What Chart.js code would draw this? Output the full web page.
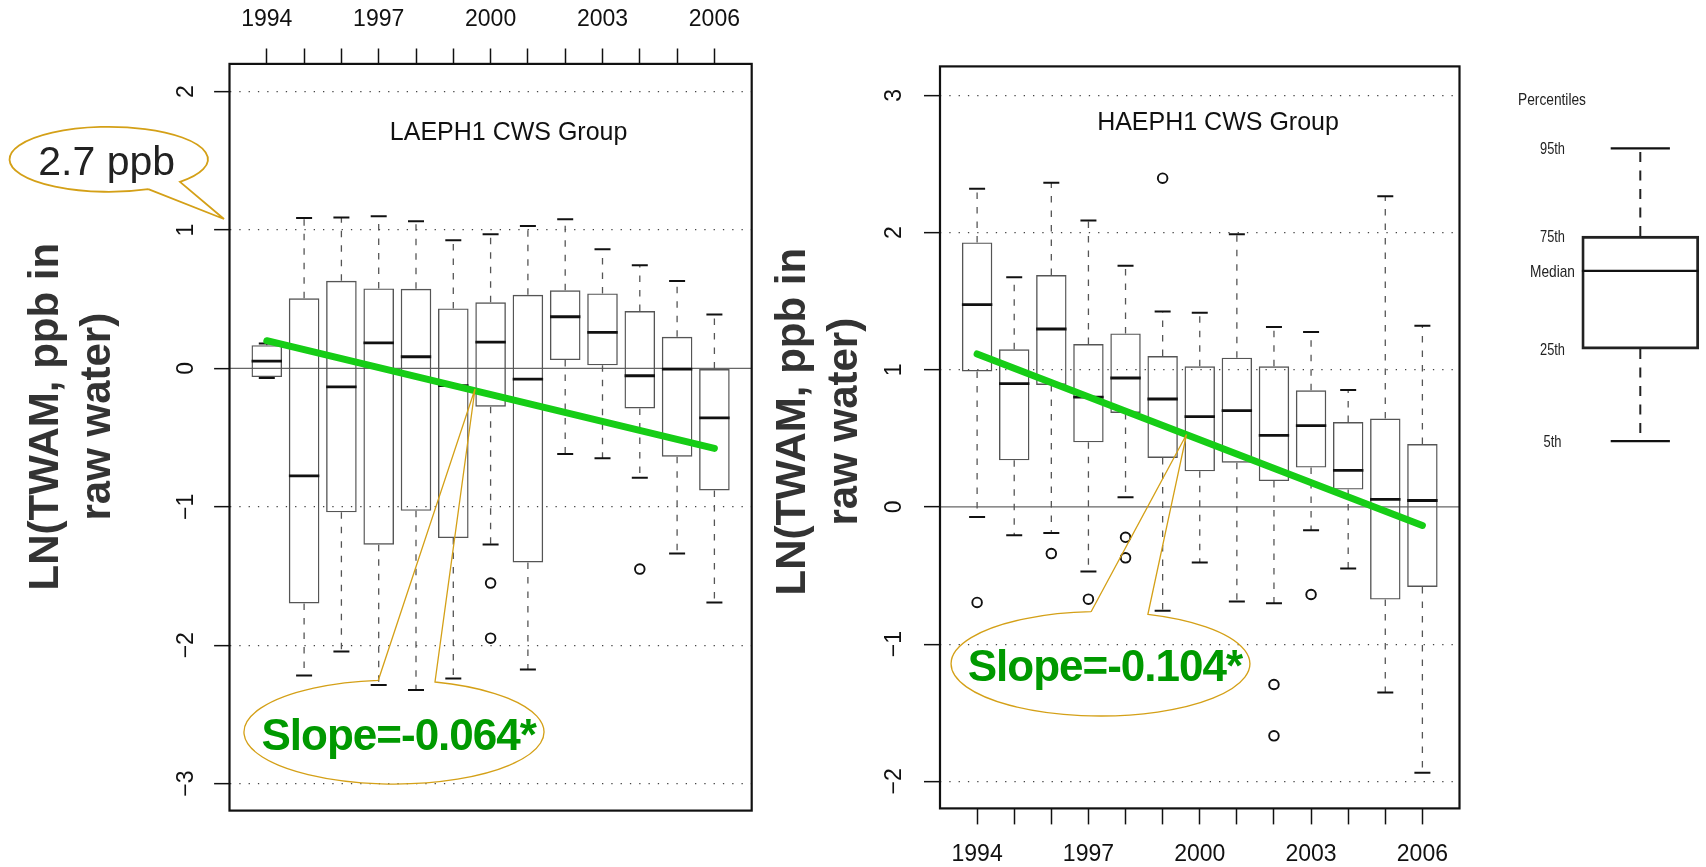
<!DOCTYPE html>
<html><head><meta charset="utf-8">
<script src="https://cdn.jsdelivr.net/npm/chart.js@4.4.1/dist/chart.umd.min.js"></script>
<style>
html,body{margin:0;padding:0;background:#fff;width:1706px;height:867px;overflow:hidden}
canvas{position:absolute}
#cL{left:0;top:0}
#cR{left:760px;top:0}
#cG{left:1500px;top:60px}
#ov{position:absolute;left:0;top:0;pointer-events:none}
</style></head><body>
<canvas id="cL" width="770" height="867"></canvas>
<canvas id="cR" width="730" height="867"></canvas>
<canvas id="cG" width="206" height="420"></canvas>
<svg id="ov" width="1706" height="867" xmlns="http://www.w3.org/2000/svg" font-family="Liberation Sans, Arial, sans-serif">
  <!-- axis titles -->
  <g font-size="42" font-weight="bold" fill="#333" text-anchor="middle">
    <text transform="translate(58.3,416.7) rotate(-90)">LN(TWAM, ppb in</text>
    <text transform="translate(110,416.7) rotate(-90)">raw water)</text>
    <text transform="translate(805,421.7) rotate(-90)">LN(TWAM, ppb in</text>
    <text transform="translate(856.7,421.7) rotate(-90)">raw water)</text>
  </g>
  <!-- panel labels -->
  <g font-size="25" fill="#111" text-anchor="middle">
    <text x="508.6" y="140">LAEPH1 CWS Group</text>
    <text x="1218" y="129.5">HAEPH1 CWS Group</text>
  </g>
  <!-- callouts -->
  <path d="M148.3 189.1 L224 219 L180 181.9 A99.2 32.5 0 1 0 148.3 189.1" fill="none" stroke="#d4a017" stroke-width="1.8"/>
  <text x="106.7" y="175" font-size="41" fill="#222" text-anchor="middle">2.7 ppb</text>
  <path d="M378.3 680.3 L475 389 L435 682 A150 52 0 1 1 378.3 680.3" fill="none" stroke="#d4a017" stroke-width="1.3"/>
  <text x="398.7" y="750" font-size="44" font-weight="bold" fill="#009900" text-anchor="middle" letter-spacing="-1">Slope=-0.064*</text>
  <path d="M1091.1 611.7 L1186.5 434.5 L1147.9 614.3 A149.4 52.2 0 1 1 1091.1 611.7" fill="none" stroke="#d4a017" stroke-width="1.3"/>
  <text x="1104.9" y="681" font-size="44" font-weight="bold" fill="#009900" text-anchor="middle" letter-spacing="-1">Slope=-0.104*</text>
  <!-- legend labels -->
  <g font-size="17" fill="#222">
    <text x="1518" y="105" textLength="68" lengthAdjust="spacingAndGlyphs">Percentiles</text>
    <text x="1552.5" y="154.4" text-anchor="middle" textLength="25" lengthAdjust="spacingAndGlyphs">95th</text>
    <text x="1552.5" y="242.1" text-anchor="middle" textLength="25" lengthAdjust="spacingAndGlyphs">75th</text>
    <text x="1552.5" y="277.1" text-anchor="middle" textLength="45" lengthAdjust="spacingAndGlyphs">Median</text>
    <text x="1552.5" y="355.1" text-anchor="middle" textLength="25" lengthAdjust="spacingAndGlyphs">25th</text>
    <text x="1552.5" y="447.1" text-anchor="middle" textLength="18" lengthAdjust="spacingAndGlyphs">5th</text>
  </g>
</svg>
<script>
// ---------- data ----------
const years = [1994,1995,1996,1997,1998,1999,2000,2001,2002,2003,2004,2005,2006];
const labelYears = [1994,1997,2000,2003,2006];
const yTicksLeft = [-3,-2,-1,0,1,2];
const yTicksRight = [-2,-1,0,1,2,3];

// LAEPH1 CWS Group
const leftHi  = [0.18, 1.086, 1.091, 1.10, 1.064, 0.925, 0.970, 1.028, 1.077, 0.860, 0.746, 0.631, 0.390];
const leftQ3  = [0.168, 0.506, 0.633, 0.578, 0.575, 0.433, 0.477, 0.532, 0.564, 0.542, 0.414, 0.228, 0.0];
const leftMed = [0.053, -0.776, -0.133, 0.185, 0.084, -0.125, 0.19, -0.077, 0.373, 0.26, -0.053, -0.005, -0.357];
const leftQ1  = [-0.063, -1.698, -1.04, -1.274, -1.029, -1.226, -0.277, -1.402, 0.06, 0.022, -0.289, -0.638, -0.882];
const leftLo  = [-0.07, -2.218, -2.045, -2.288, -2.324, -2.24, -1.272, -2.175, -0.619, -0.650, -0.790, -1.337, -1.691];
const leftOutliers = [[2000,-1.551],[2000,-1.949],[2004,-1.45]];
const leftTrend = [[1994,0.20],[2006,-0.578]];

// HAEPH1 CWS Group
const rightHi  = [2.319, 1.675, 2.363, 2.088, 1.758, 1.425, 1.416, 1.988, 1.311, 1.275, 0.852, 2.265, 1.321];
const rightQ3  = [1.928, 1.149, 1.690, 1.187, 1.265, 1.100, 1.025, 1.088, 1.025, 0.850, 0.619, 0.644, 0.459];
const rightMed = [1.474, 0.899, 1.297, 0.801, 0.940, 0.787, 0.658, 0.702, 0.522, 0.593, 0.267, 0.056, 0.047];
const rightQ1  = [0.988, 0.340, 0.889, 0.471, 0.685, 0.357, 0.260, 0.323, 0.189, 0.287, 0.127, -0.675, -0.583];
const rightLo  = [-0.073, -0.206, -0.189, -0.471, 0.071, -0.757, -0.405, -0.689, -0.701, -0.170, -0.449, -1.352, -1.937];
const rightOutliers = [[1994,-0.696],[1996,-0.340],[1997,-0.672],[1998,-0.221],[1998,-0.371],[1999,2.396],[2002,-1.294],[2002,-1.668],[2003,-0.638]];
const rightTrend = [[1994,1.115],[2006,-0.135]];

// Legend (schematic percentiles)
const legendStats = {lo:0, q1:3.14, med:5.81, q3:7.0, hi:10};

// ---------- helpers ----------
Chart.defaults.font.family = 'Liberation Sans, Arial, sans-serif';
Chart.defaults.color = '#111';

const fmt = v => v < 0 ? '\u2212' + Math.abs(v) : String(v);

const zeroLine = {
  id: 'zeroLine',
  beforeDatasetsDraw(chart) {
    const y = chart.scales.y; if (!y || chart.options.plugins.zeroLine === false) return;
    const a = chart.chartArea, ctx = chart.ctx, py = y.getPixelForValue(0);
    ctx.save(); ctx.strokeStyle = '#666'; ctx.lineWidth = 1.2;
    ctx.beginPath(); ctx.moveTo(a.left, py); ctx.lineTo(a.right, py); ctx.stroke(); ctx.restore();
  }
};
const frame = {
  id: 'frame',
  afterDatasetsDraw(chart) {
    if (chart.options.plugins.frame === false) return;
    const a = chart.chartArea, ctx = chart.ctx;
    ctx.save(); ctx.strokeStyle = '#111'; ctx.lineWidth = 2.2;
    ctx.strokeRect(a.left, a.top, a.right - a.left, a.bottom - a.top); ctx.restore();
  }
};

function boxDatasets(xs, lo, q1, med, q3, hi, outliers, trend, st) {
  const whisk = [];
  xs.forEach((x, i) => {
    whisk.push({x, y: q3[i]}, {x, y: hi[i]}, {x, y: null}, {x, y: q1[i]}, {x, y: lo[i]}, {x, y: null});
  });
  const caps = [];
  xs.forEach((x, i) => { caps.push({x, y: hi[i]}, {x, y: lo[i]}); });
  const ds = [];
  if (trend.length) ds.push({ type: 'line', label: 'trend', data: trend.map(p => ({x: p[0], y: p[1]})),
      borderColor: 'rgb(22,205,22)', borderWidth: 7, pointRadius: 0, borderCapStyle: 'round', order: 0 });
  if (outliers.length) ds.push({ type: 'scatter', label: 'outliers', data: outliers.map(p => ({x: p[0], y: p[1]})),
      pointStyle: 'circle', pointRadius: 4.8, pointBorderWidth: 1.9, borderColor: '#111', backgroundColor: 'rgba(0,0,0,0)', order: 1 });
  ds.push(
    { type: 'scatter', label: 'median', data: xs.map((x, i) => ({x, y: med[i]})), pointStyle: 'line',
      pointRadius: st.medR, pointBorderWidth: st.medW, borderColor: '#111', order: 2 },
    { type: 'scatter', label: 'caps', data: caps, pointStyle: 'line',
      pointRadius: st.capR, pointBorderWidth: st.capW, borderColor: '#111', order: 3 },
    { type: 'bar', label: 'box', data: xs.map((x, i) => ({x, y: [q1[i], q3[i]]})), backgroundColor: 'rgba(0,0,0,0)',
      borderColor: st.boxColor, borderWidth: st.boxW, borderSkipped: false, barPercentage: 0.82, categoryPercentage: 1,
      barThickness: st.barThickness, order: 4 },
    { type: 'line', label: 'whiskers', data: whisk, borderColor: st.whiskColor, borderWidth: st.whiskW,
      borderDash: st.dash, pointRadius: 0, spanGaps: false, order: 5 }
  );
  return ds;
}

function panel(canvasId, cfg) {
  const xAxis = {
    type: 'linear', position: cfg.xPos, min: 1993, max: 2007, offset: false,
    afterBuildTicks: s => { s.ticks = years.map(v => ({value: v})); },
    afterFit: s => { s.height = cfg.xH; },
    ticks: { autoSkip: false, maxRotation: 0, minRotation: 0, padding: cfg.xPad, color: '#111',
      font: {size: 23}, callback: v => labelYears.includes(v) ? String(v) : '' },
    grid: { offset: false, drawOnChartArea: false, drawTicks: true, tickLength: cfg.tl, tickColor: '#111', tickWidth: 1.5 },
    border: { display: false }
  };
  const yAxis = {
    type: 'linear', position: 'left', min: cfg.yMin, max: cfg.yMax,
    afterBuildTicks: s => { s.ticks = cfg.yTicks.map(v => ({value: v})); },
    afterFit: s => { s.width = cfg.yW; },
    ticks: { minRotation: 90, maxRotation: 90, crossAlign: 'center', padding: cfg.yPad, color: '#111',
      font: {size: 23}, callback: v => fmt(v) },
    grid: { drawOnChartArea: true, drawTicks: true, tickLength: cfg.tl, tickColor: '#111', tickWidth: 1.5,
      tickBorderDash: [], lineWidth: 1.3,
      color: c => (c.tick && c.tick.value === 0) ? 'rgba(0,0,0,0)' : '#444' },
    border: { display: false, dash: [1.3, 8] }
  };
  return new Chart(document.getElementById(canvasId), {
    type: 'bar',
    data: { datasets: boxDatasets(years, cfg.lo, cfg.q1, cfg.med, cfg.q3, cfg.hi, cfg.out, cfg.trend,
      { medR: 15.2, medW: 2.8, capR: 8, capW: 2, boxColor: '#555', boxW: 1.4, whiskColor: '#555', whiskW: 1.3, dash: [6.5, 8] }) },
    options: {
      responsive: false, animation: false, devicePixelRatio: 1,
      layout: { padding: cfg.pad, autoPadding: false },
      plugins: { legend: {display: false}, tooltip: {enabled: false} },
      scales: { x: xAxis, y: yAxis }
    },
    plugins: [zeroLine, frame]
  });
}

panel('cL', {
  xPos: 'top', xH: 63.9, yW: 229.5, tl: 15.4, xPad: 14.6, yPad: 14.3,
  yMin: -3.195, yMax: 2.2, yTicks: yTicksLeft,
  pad: {left: 0, top: 0, right: 18.3, bottom: 56.4},
  lo: leftLo, q1: leftQ1, med: leftMed, q3: leftQ3, hi: leftHi, out: leftOutliers, trend: leftTrend
});
panel('cR', {
  xPos: 'bottom', xH: 58.6, yW: 180, tl: 16, xPad: 16.8, yPad: 15.9,
  yMin: -2.197, yMax: 3.211, yTicks: yTicksRight,
  pad: {left: 0, top: 66.4, right: 30.5, bottom: 0},
  lo: rightLo, q1: rightQ1, med: rightMed, q3: rightQ3, hi: rightHi, out: rightOutliers, trend: rightTrend
});

// legend box
new Chart(document.getElementById('cG'), {
  type: 'bar',
  data: { datasets: boxDatasets([0], [legendStats.lo], [legendStats.q1], [legendStats.med], [legendStats.q3], [legendStats.hi], [], [],
    { medR: 58.4, medW: 2.2, capR: 29.6, capW: 2.2, boxColor: '#222', boxW: 2.2, whiskColor: '#222', whiskW: 2, dash: [10, 8.5], barThickness: 117 }) },
  options: {
    responsive: false, animation: false, devicePixelRatio: 1,
    layout: { padding: {left: 80, right: 5.4, top: 59, bottom: 9.7}, autoPadding: false },
    plugins: { legend: {display: false}, tooltip: {enabled: false}, zeroLine: false, frame: false },
    scales: {
      x: { type: 'linear', min: -1, max: 1, display: false, offset: false, grid: {offset: false} },
      y: { type: 'linear', min: -1, max: 11, display: false }
    }
  }
});
</script>
</body></html>
